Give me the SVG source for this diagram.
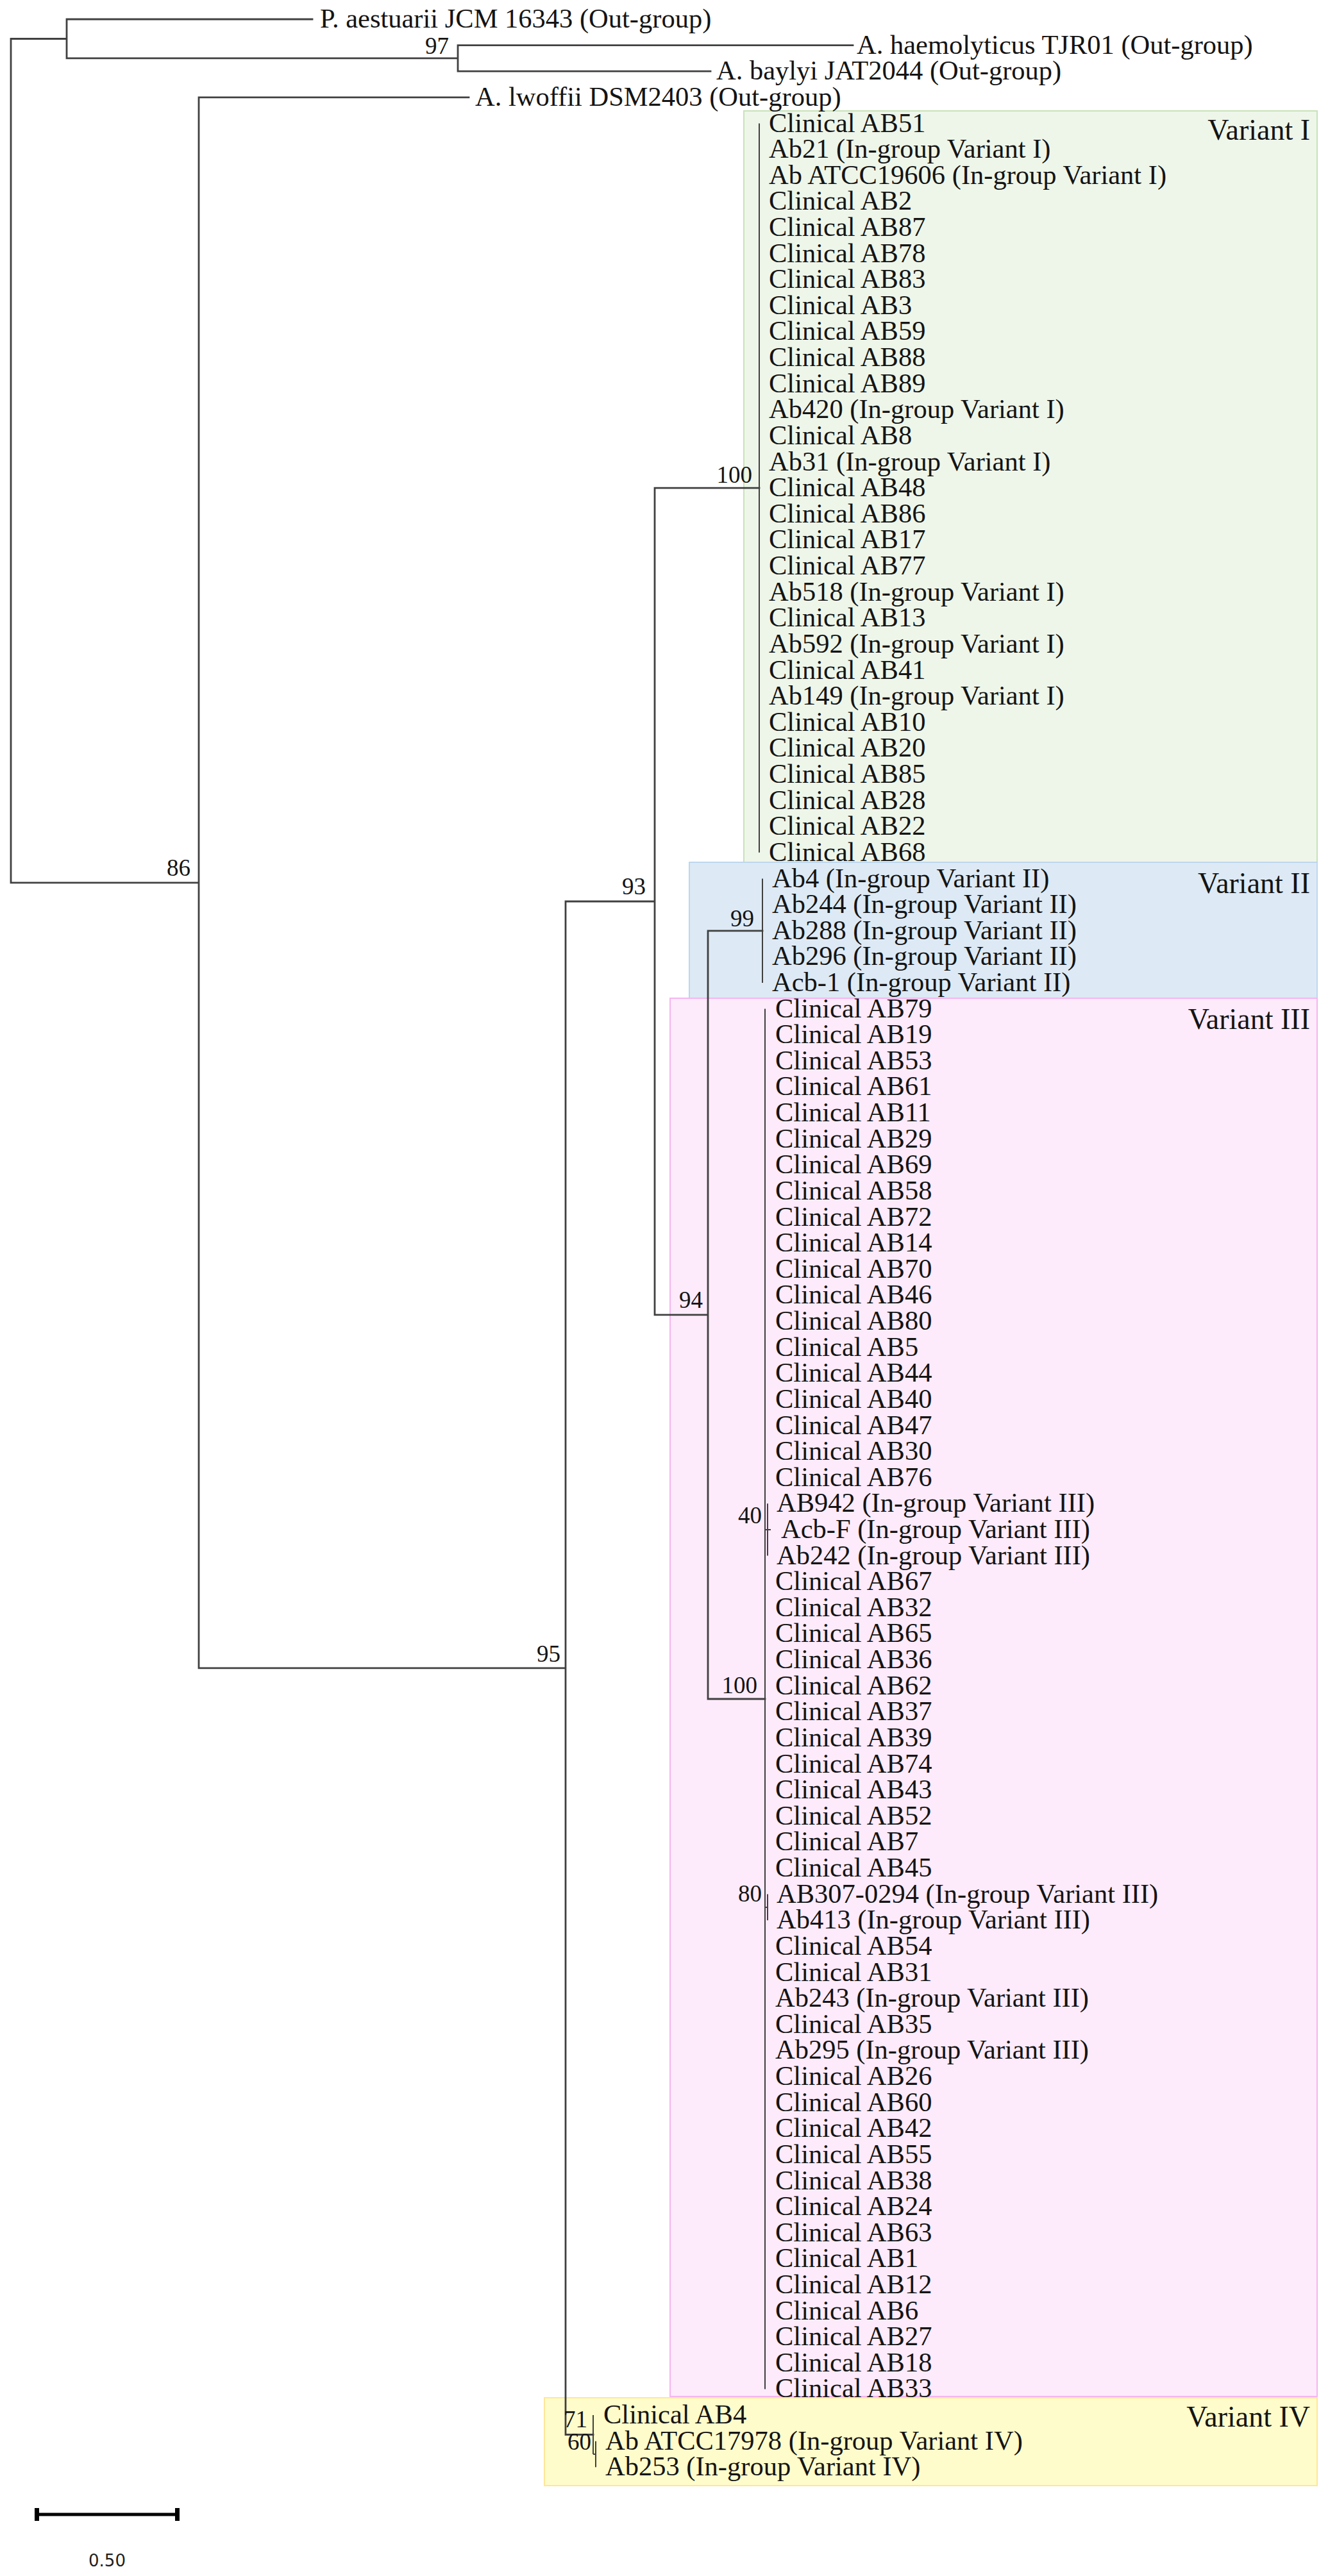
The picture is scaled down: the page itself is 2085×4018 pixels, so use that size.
<svg xmlns="http://www.w3.org/2000/svg" width="2085" height="4018" viewBox="0 0 2085 4018">
<style>
.t{font-family:"Liberation Serif","Times New Roman",serif;font-size:42.5px;fill:#141414}
.b{font-family:"Liberation Serif","Times New Roman",serif;font-size:37px;fill:#141414;text-anchor:end}
.v{font-family:"Liberation Serif","Times New Roman",serif;font-size:46px;fill:#141414;text-anchor:end}
.br{fill:none;stroke:#404040;stroke-width:2.8;stroke-linecap:square}
.tp{fill:none;stroke:#404040;stroke-width:2}
</style>
<rect width="2085" height="4018" fill="#ffffff"/>
<g id="clusters">
<g id="variant-I"><rect x="1160" y="173" width="894" height="1172" fill="#EEF6EA" stroke="#C8E2B8" stroke-width="2"/><text class="v" x="2043" y="218">Variant I</text></g>
<g id="variant-II"><rect x="1075" y="1345" width="979" height="212" fill="#DDEAF5" stroke="#BDD7EE" stroke-width="2"/><text class="v" x="2043" y="1393">Variant II</text></g>
<g id="variant-III"><rect x="1045" y="1557" width="1009" height="2181" fill="#FDEBFB" stroke="#F5B5EF" stroke-width="2"/><text class="v" x="2043" y="1605">Variant III</text></g>
<g id="variant-IV"><rect x="849" y="3740" width="1205" height="137" fill="#FFFCCB" stroke="#FFE699" stroke-width="2"/><text class="v" x="2043" y="3785">Variant IV</text></g>
</g>
<g id="connectors">
<path class="br" d="M17 60.5V1376.9M17 60.5H104M104 30V90.9M104 30H487M104 90.9H714M714 70.6V111.2M714 70.6H1330M714 111.2H1108M17 1376.9H310M310 151.9V2601.8M310 151.9H731M310 2601.8H882M882 1406V3797.5M882 1406H1021M1021 761.2V2050.9M1021 761.2H1184M1021 2050.9H1104M1104 1451.8V2650M1104 1451.8H1189M1104 2650H1193M882 3797.5H925"/>
<path class="tp" d="M1184 192.5V1329.8M1189 1370.5V1533M1193 1573.6V3726.4M1193 2386H1197M1197 2345.3V2426.6M1197 2386H1202M1193 2975H1197M1197 2954.6V2995.3M925 3767V3828M925 3828H929M929 3807.7V3848.3"/>
</g>
<g id="support">
<g id="node-97"><text class="b" x="700" y="84">97</text></g>
<g id="node-86"><text class="b" x="297" y="1366">86</text></g>
<g id="node-93"><text class="b" x="1007" y="1395">93</text></g>
<g id="node-100a"><text class="b" x="1173" y="753">100</text></g>
<g id="node-99"><text class="b" x="1176" y="1445">99</text></g>
<g id="node-94"><text class="b" x="1096" y="2040">94</text></g>
<g id="node-95"><text class="b" x="874" y="2592">95</text></g>
<g id="node-100b"><text class="b" x="1181" y="2641">100</text></g>
<g id="node-40"><text class="b" x="1188" y="2376">40</text></g>
<g id="node-80"><text class="b" x="1188" y="2966">80</text></g>
<g id="node-71"><text class="b" x="916" y="3786">71</text></g>
<g id="node-60"><text class="b" x="922" y="3821">60</text></g>
</g>
<g id="tips">
<g id="tip-outgroup"><text class="t" x="499" y="43">P. aestuarii JCM 16343 (Out-group)</text><text class="t" x="1336" y="83.6">A. haemolyticus TJR01 (Out-group)</text><text class="t" x="1117" y="124.2">A. baylyi JAT2044 (Out-group)</text><text class="t" x="741" y="164.9">A. lwoffii  DSM2403 (Out-group)</text></g>
<g id="tips-I">
<text class="t" x="1199" y="205.5">Clinical AB51</text>
<text class="t" x="1199" y="246.1">Ab21 (In-group Variant I)</text>
<text class="t" x="1199" y="286.7">Ab ATCC19606 (In-group Variant I)</text>
<text class="t" x="1199" y="327.3">Clinical AB2</text>
<text class="t" x="1199" y="368">Clinical AB87</text>
<text class="t" x="1199" y="408.6">Clinical AB78</text>
<text class="t" x="1199" y="449.2">Clinical AB83</text>
<text class="t" x="1199" y="489.8">Clinical AB3</text>
<text class="t" x="1199" y="530.4">Clinical AB59</text>
<text class="t" x="1199" y="571.1">Clinical AB88</text>
<text class="t" x="1199" y="611.7">Clinical AB89</text>
<text class="t" x="1199" y="652.3">Ab420 (In-group Variant I)</text>
<text class="t" x="1199" y="692.9">Clinical AB8</text>
<text class="t" x="1199" y="733.5">Ab31 (In-group Variant I)</text>
<text class="t" x="1199" y="774.2">Clinical AB48</text>
<text class="t" x="1199" y="814.8">Clinical AB86</text>
<text class="t" x="1199" y="855.4">Clinical AB17</text>
<text class="t" x="1199" y="896">Clinical AB77</text>
<text class="t" x="1199" y="936.6">Ab518 (In-group Variant I)</text>
<text class="t" x="1199" y="977.3">Clinical AB13</text>
<text class="t" x="1199" y="1017.9">Ab592 (In-group Variant I)</text>
<text class="t" x="1199" y="1058.5">Clinical AB41</text>
<text class="t" x="1199" y="1099.1">Ab149 (In-group Variant I)</text>
<text class="t" x="1199" y="1139.7">Clinical AB10</text>
<text class="t" x="1199" y="1180.4">Clinical AB20</text>
<text class="t" x="1199" y="1221">Clinical AB85</text>
<text class="t" x="1199" y="1261.6">Clinical AB28</text>
<text class="t" x="1199" y="1302.2">Clinical AB22</text>
<text class="t" x="1199" y="1342.8">Clinical AB68</text>
</g>
<g id="tips-II">
<text class="t" x="1204" y="1383.5">Ab4 (In-group Variant II)</text>
<text class="t" x="1204" y="1424.1">Ab244 (In-group Variant II)</text>
<text class="t" x="1204" y="1464.7">Ab288 (In-group Variant II)</text>
<text class="t" x="1204" y="1505.3">Ab296 (In-group Variant II)</text>
<text class="t" x="1204" y="1545.9">Acb-1 (In-group Variant II)</text>
</g>
<g id="tips-III">
<text class="t" x="1209" y="1586.6">Clinical AB79</text>
<text class="t" x="1209" y="1627.2">Clinical AB19</text>
<text class="t" x="1209" y="1667.8">Clinical AB53</text>
<text class="t" x="1209" y="1708.4">Clinical AB61</text>
<text class="t" x="1209" y="1749">Clinical AB11</text>
<text class="t" x="1209" y="1789.7">Clinical AB29</text>
<text class="t" x="1209" y="1830.3">Clinical AB69</text>
<text class="t" x="1209" y="1870.9">Clinical AB58</text>
<text class="t" x="1209" y="1911.5">Clinical AB72</text>
<text class="t" x="1209" y="1952.1">Clinical AB14</text>
<text class="t" x="1209" y="1992.8">Clinical AB70</text>
<text class="t" x="1209" y="2033.4">Clinical AB46</text>
<text class="t" x="1209" y="2074">Clinical AB80</text>
<text class="t" x="1209" y="2114.6">Clinical AB5</text>
<text class="t" x="1209" y="2155.2">Clinical AB44</text>
<text class="t" x="1209" y="2195.9">Clinical AB40</text>
<text class="t" x="1209" y="2236.5">Clinical AB47</text>
<text class="t" x="1209" y="2277.1">Clinical AB30</text>
<text class="t" x="1209" y="2317.7">Clinical AB76</text>
<text class="t" x="1211" y="2358.3">AB942 (In-group Variant III)</text>
<text class="t" x="1218" y="2399">Acb-F (In-group Variant III)</text>
<text class="t" x="1211" y="2439.6">Ab242 (In-group Variant III)</text>
<text class="t" x="1209" y="2480.2">Clinical AB67</text>
<text class="t" x="1209" y="2520.8">Clinical AB32</text>
<text class="t" x="1209" y="2561.4">Clinical AB65</text>
<text class="t" x="1209" y="2602.1">Clinical AB36</text>
<text class="t" x="1209" y="2642.7">Clinical AB62</text>
<text class="t" x="1209" y="2683.3">Clinical AB37</text>
<text class="t" x="1209" y="2723.9">Clinical AB39</text>
<text class="t" x="1209" y="2764.5">Clinical AB74</text>
<text class="t" x="1209" y="2805.2">Clinical AB43</text>
<text class="t" x="1209" y="2845.8">Clinical AB52</text>
<text class="t" x="1209" y="2886.4">Clinical AB7</text>
<text class="t" x="1209" y="2927">Clinical AB45</text>
<text class="t" x="1211" y="2967.6">AB307-0294 (In-group Variant III)</text>
<text class="t" x="1211" y="3008.3">Ab413 (In-group Variant III)</text>
<text class="t" x="1209" y="3048.9">Clinical AB54</text>
<text class="t" x="1209" y="3089.5">Clinical AB31</text>
<text class="t" x="1209" y="3130.1">Ab243 (In-group Variant III)</text>
<text class="t" x="1209" y="3170.7">Clinical AB35</text>
<text class="t" x="1209" y="3211.4">Ab295 (In-group Variant III)</text>
<text class="t" x="1209" y="3252">Clinical AB26</text>
<text class="t" x="1209" y="3292.6">Clinical AB60</text>
<text class="t" x="1209" y="3333.2">Clinical AB42</text>
<text class="t" x="1209" y="3373.8">Clinical AB55</text>
<text class="t" x="1209" y="3414.5">Clinical AB38</text>
<text class="t" x="1209" y="3455.1">Clinical AB24</text>
<text class="t" x="1209" y="3495.7">Clinical AB63</text>
<text class="t" x="1209" y="3536.3">Clinical AB1</text>
<text class="t" x="1209" y="3576.9">Clinical AB12</text>
<text class="t" x="1209" y="3617.6">Clinical AB6</text>
<text class="t" x="1209" y="3658.2">Clinical AB27</text>
<text class="t" x="1209" y="3698.8">Clinical AB18</text>
<text class="t" x="1209" y="3739.4">Clinical AB33</text>
</g>
<g id="tips-IV">
<text class="t" x="941" y="3780">Clinical AB4</text>
<text class="t" x="944" y="3820.7">Ab ATCC17978 (In-group Variant IV)</text>
<text class="t" x="944" y="3861.3">Ab253 (In-group Variant IV)</text>
</g>
</g>
<g id="scale-bar">
<path d="M57 3922H277" stroke="#000" stroke-width="5" fill="none"/>
<rect x="54" y="3912" width="7" height="20" fill="#000"/>
<rect x="273" y="3912" width="7" height="20" fill="#000"/>
<text x="167" y="4003" font-family="DejaVu Sans, Verdana, sans-serif" font-size="26" fill="#1e1e1e" text-anchor="middle">0.50</text>
</g>
</svg>
